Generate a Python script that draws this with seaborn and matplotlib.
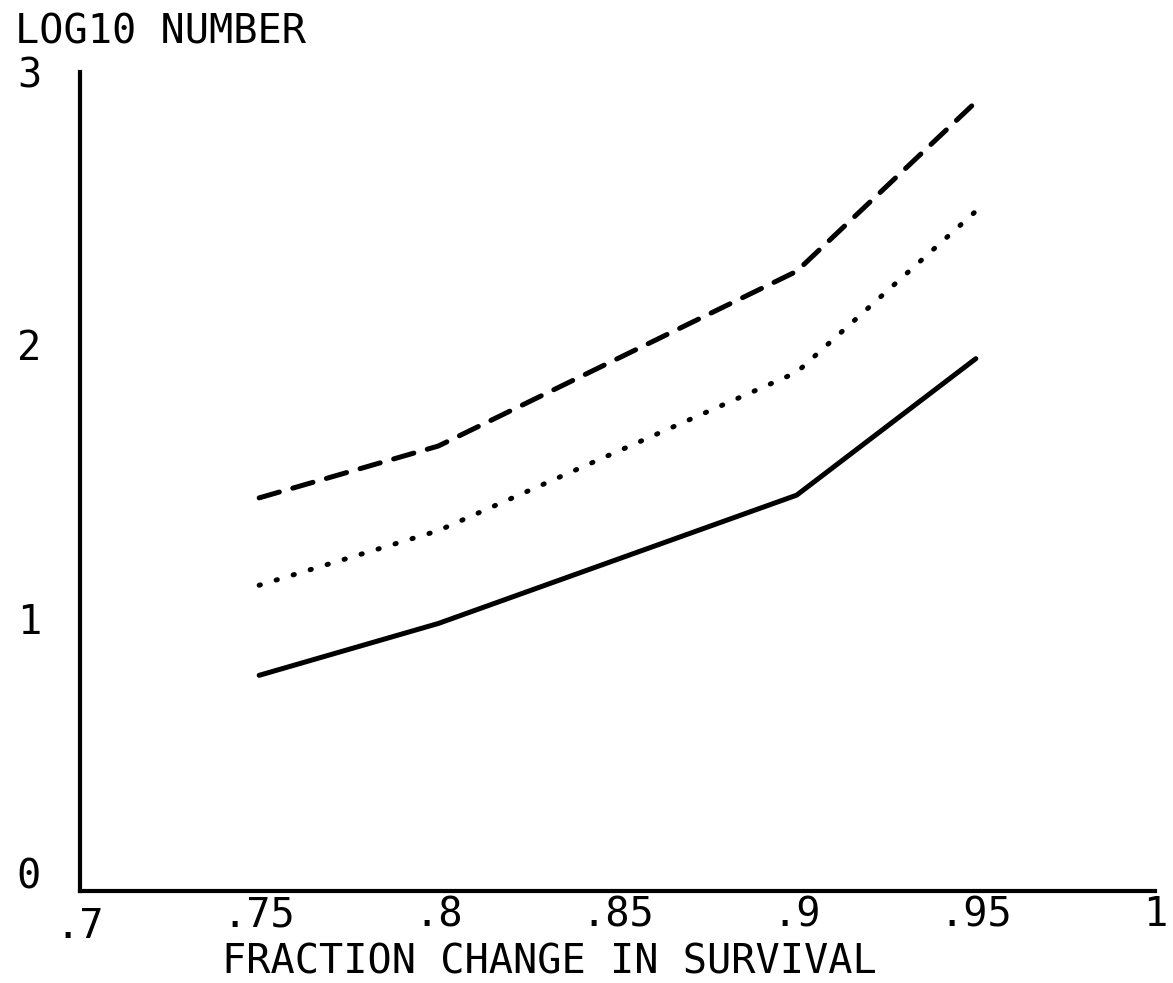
import matplotlib
matplotlib.use("Agg")
import matplotlib.pyplot as plt
import matplotlib.transforms as mtransforms
import numpy as np
import pandas as pd
import seaborn as sns

# Fraction change in survival (x) and log10 number for three scenarios
survival = [0.75, 0.80, 0.90, 0.95]
solid_vals = [0.79, 0.98, 1.45, 1.95]
dotted_vals = [1.12, 1.32, 1.90, 2.49]
dashed_vals = [1.44, 1.63, 2.27, 2.89]

x_ticks = [0.7, 0.75, 0.8, 0.85, 0.9, 0.95, 1.0]
x_tick_labels = [".7", ".75", ".8", ".85", ".9", ".95", "1"]
y_ticks = [0, 1, 2, 3]
y_tick_labels = ["0", "1", "2", "3"]

series_names = ["low", "mid", "high"]

df = pd.concat([
    pd.DataFrame({"survival": survival, "log10n": vals, "series": name})
    for name, vals in zip(series_names, [solid_vals, dotted_vals, dashed_vals])
], ignore_index=True)

sns.set_style("white")
font = "DejaVu Sans Mono"
plt.rcParams["font.family"] = [font, "DejaVu Sans"]
plt.rcParams["text.color"] = "black"
FS = 29

fig = plt.figure(figsize=(11.73, 9.83), dpi=100)
ax = fig.add_axes([80 / 1173, 1 - 891 / 983, 1075 / 1173, (891 - 72) / 983])

sns.lineplot(
    data=df, x="survival", y="log10n", hue="series", style="series",
    palette={n: "black" for n in series_names},
    dashes={"low": "", "mid": (0.25, 3.3), "high": (4.2, 2.8)},
    linewidth=3.6, legend=False, ax=ax,
)
for line in ax.get_lines():
    line.set_dash_capstyle("round")
    line.set_solid_capstyle("round")

ax.set_xlim(0.7, 1.0)
ax.set_ylim(0, 3)
ax.set_xticks(x_ticks)
ax.set_xticklabels(x_tick_labels, fontsize=FS)
ax.set_yticks(y_ticks)
ax.set_yticklabels(y_tick_labels, fontsize=FS)
ax.tick_params(axis="x", direction="in", length=5, width=2, pad=3, colors="black")
ax.tick_params(axis="y", direction="in", length=7, width=2, pad=28, colors="black")

for side in ["top", "right"]:
    ax.spines[side].set_visible(False)
for side in ["left", "bottom"]:
    ax.spines[side].set_linewidth(3)
    ax.spines[side].set_color("black")

# the first x label sits a bit lower, the zero on y a bit higher
xl0 = ax.get_xticklabels()[0]
xl0.set_transform(xl0.get_transform() + mtransforms.ScaledTranslation(0, -12 / 100, fig.dpi_scale_trans))
yl0 = ax.get_yticklabels()[0]
yl0.set_transform(yl0.get_transform() + mtransforms.ScaledTranslation(0, 18 / 100, fig.dpi_scale_trans))

ax.set_xlabel("")
ax.set_ylabel("")
fig.text(549 / 1173, 1 - 962 / 983, "FRACTION CHANGE IN SURVIVAL",
         ha="center", va="center", fontsize=FS, color="black")
fig.text(15 / 1173, 1 - 43 / 983, "LOG10 NUMBER", ha="left", va="baseline",
         fontsize=FS, color="black")

fig.savefig("out.png", dpi=100, facecolor="white")
